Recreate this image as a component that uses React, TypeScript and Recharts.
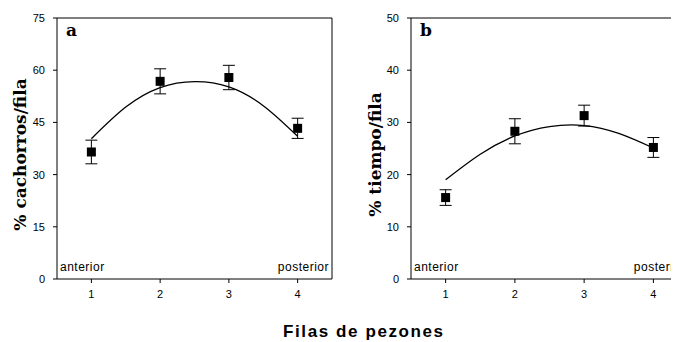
import { ComposedChart, Line, Scatter, ErrorBar, XAxis, YAxis, ReferenceLine } from 'recharts'

// nipple rows (1 = anterior, 4 = posterior)
const rows = [1, 2, 3, 4]

// panel a: % pups per row, mean ± SE
const pupsMean = [36.5, 56.8, 57.9, 43.3]
const pupsErr = [3.4, 3.6, 3.5, 2.9]

// panel b: % suckling time per row, mean ± SE
const timeMean = [15.6, 28.3, 31.3, 25.2]
const timeErr = [1.5, 2.4, 2.0, 1.9]

// quadratic regression curves, sampled along the x range
const fitX = [1, 1.5, 2, 2.5, 3, 3.5, 4]
const pupsFit = [40.3, 49.4, 55.0, 56.7, 55.2, 49.8, 41.0]
const timeFit = [19.0, 23.9, 27.4, 29.2, 29.4, 27.9, 25.1]

const pupsTicks = [0, 15, 30, 45, 60, 75]
const timeTicks = [0, 10, 20, 30, 40, 50]

const SANS = '"Liberation Sans", Arial, sans-serif'
const SERIF = '"DejaVu Serif", serif'

interface PanelProps {
  letter: string
  yLabel: string
  mean: number[]
  err: number[]
  fit: number[]
  yTicks: number[]
  width: number
  yAxisWidth: number
  marginRight: number
  labelX: number
}

function Square(props: any) {
  const { cx, cy } = props
  if (cx == null || cy == null) return null
  return <rect x={cx - 4.5} y={cy - 4.5} width={9} height={9} fill="#000" />
}

function Panel({ letter, yLabel, mean, err, fit, yTicks, width, yAxisWidth, marginRight, labelX }: PanelProps) {
  const points = rows.map((x, i) => ({ x, y: mean[i], err: err[i] }))
  const curve = fitX.map((x, i) => ({ x, y: fit[i] }))
  const yMax = yTicks[yTicks.length - 1]

  return (
    <ComposedChart
      width={width}
      height={342}
      margin={{ top: 18, right: marginRight, left: 0, bottom: 33 }}
    >
      <XAxis
        dataKey="x"
        type="number"
        domain={[0.5, 4.5]}
        ticks={rows}
        allowDataOverflow
        height={30}
        tickSize={4}
        tickMargin={7}
        stroke="#000"
        tick={{ fill: '#000', fontSize: 11, fontFamily: SANS }}
      />
      <YAxis
        type="number"
        domain={[0, yMax]}
        ticks={yTicks}
        width={yAxisWidth}
        tickSize={4}
        tickMargin={8}
        stroke="#000"
        tick={{ fill: '#000', fontSize: 11, fontFamily: SANS }}
        label={{
          content: (p: any) => {
            const vb = p.viewBox
            const cy = vb.y + vb.height / 2 + 6
            return (
              <text
                x={labelX}
                y={cy}
                transform={`rotate(-90 ${labelX} ${cy})`}
                textAnchor="middle"
                dominantBaseline="central"
                fontFamily={SERIF}
                fontWeight="bold"
                fontSize={17}
                fill="#000"
              >
                {yLabel}
              </text>
            )
          },
        }}
      />
      {/* top and right frame lines */}
      <ReferenceLine
        y={yMax}
        stroke="#000"
        label={{
          content: (p: any) => (
            <text
              x={p.viewBox.x + 9}
              y={p.viewBox.y + 18}
              fontFamily={SERIF}
              fontWeight="bold"
              fontSize={17}
              fill="#000"
            >
              {letter}
            </text>
          ),
        }}
      />
      <ReferenceLine x={4.5} stroke="#000" />
      <ReferenceLine
        y={0}
        stroke="none"
        label={{
          content: (p: any) => (
            <g fontFamily={SANS} fontSize={12} letterSpacing={0.5} fill="#000">
              <text x={p.viewBox.x + 3} y={p.viewBox.y - 8}>anterior</text>
              <text x={p.viewBox.x + p.viewBox.width - 3} y={p.viewBox.y - 8} textAnchor="end">
                posterior
              </text>
            </g>
          ),
        }}
      />
      <Line
        data={curve}
        dataKey="y"
        type="natural"
        stroke="#000"
        strokeWidth={1.3}
        dot={false}
        activeDot={false}
        isAnimationActive={false}
      />
      <Scatter data={points} dataKey="y" shape={Square} isAnimationActive={false}>
        <ErrorBar dataKey="err" direction="y" width={6} stroke="#000" strokeWidth={1} />
      </Scatter>
    </ComposedChart>
  )
}

export default function App() {
  return (
    <div
      style={{
        position: 'relative',
        width: 679,
        height: 342,
        marginLeft: -8,
        marginTop: -8,
        overflow: 'hidden',
        background: '#fff',
      }}
    >
      <div style={{ position: 'absolute', left: 0, top: 0 }}>
        <Panel
          letter="a"
          yLabel="% cachorros/fila"
          mean={pupsMean}
          err={pupsErr}
          fit={pupsFit}
          yTicks={pupsTicks}
          width={340}
          yAxisWidth={57}
          marginRight={8}
          labelX={20}
        />
      </div>
      <div style={{ position: 'absolute', left: 340, top: 0 }}>
        <Panel
          letter="b"
          yLabel="% tiempo/fila"
          mean={timeMean}
          err={timeErr}
          fit={timeFit}
          yTicks={timeTicks}
          width={360}
          yAxisWidth={71}
          marginRight={12}
          labelX={35}
        />
      </div>
      <div
        style={{
          position: 'absolute',
          left: 283,
          top: 323,
          fontFamily: SANS,
          fontWeight: 'bold',
          fontSize: 17,
          lineHeight: '17px',
          letterSpacing: 1.6,
          whiteSpace: 'nowrap',
          color: '#000',
        }}
      >
        Filas de pezones
      </div>
    </div>
  )
}
